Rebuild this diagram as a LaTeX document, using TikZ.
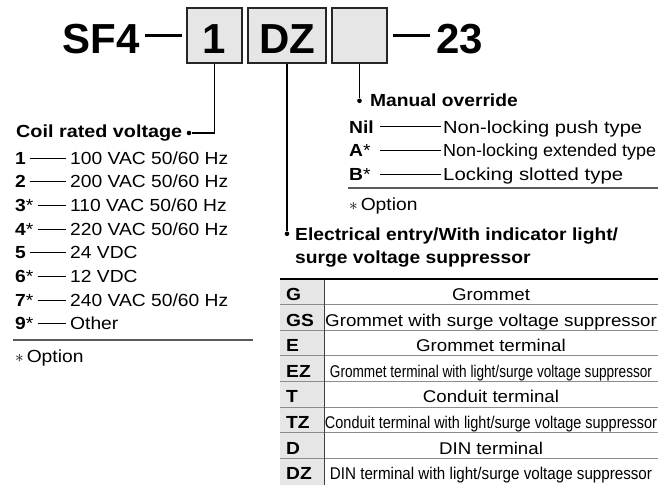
\documentclass[tikz,border=0pt]{standalone}
\usepackage{fontspec}
\usepackage{graphicx}
\setmainfont{Liberation Sans}[FakeStretch=1.1]
\newfontfamily\titlefont{Liberation Sans}
\usetikzlibrary{calc,positioning}
\definecolor{boxgray}{HTML}{E6E6E6}
\definecolor{rulegray}{HTML}{5A5A5A}
\newcommand{\fitrow}[2]{\resizebox{#1}{\height}{#2}}
\tikzset{
  codebox/.style={draw=black!85, fill=boxgray, line width=1.6pt, minimum height=55pt, inner sep=0pt, text height=35pt, text depth=0pt, font=\titlefont\fontsize{42}{42}\selectfont\bfseries},
  bigtxt/.style={inner sep=0pt, font=\titlefont\fontsize{42}{42}\selectfont\bfseries},
  lead/.style={line width=1.4pt, black},
  leader/.style={line width=0.9pt, black, shorten <=4pt, shorten >=4pt},
  heading/.style={inner sep=0pt, anchor=base west, font=\fontsize{17.5}{20}\selectfont\bfseries},
  txt/.style={inner sep=0pt, anchor=base west, font=\fontsize{17.5}{20}\selectfont},
  tabtxt/.style={inner sep=0pt, anchor=base, font=\fontsize{17}{20}\selectfont},
  sepline/.style={rulegray, line width=1.3pt},
  rowline/.style={black!45, line width=0.8pt},
  joint/.style={circle, fill=black, inner sep=0pt, minimum size=4.6pt}
}

\begin{document}
\begin{tikzpicture}[x=1pt,y=-1pt]
  \useasboundingbox (0,0) rectangle (661,485);
  % part number
  \node[bigtxt, anchor=base east] (sf) at (140,53) {SF4};
  \node[codebox, minimum width=55pt] (b1) at (214.5,35.5) {1};
  \node[codebox, minimum width=78pt] (b2) at (287,35.5) {DZ};
  \node[codebox, minimum width=55pt] (b3) at (359.5,35.5) {};
  \node[bigtxt, anchor=base west] (tw) at (436,53) {23};
  \draw[line width=2.4pt, shorten <=5pt, shorten >=4pt] (sf.east |- b1.west) -- (b1.west);
  \draw[line width=2.4pt, shorten <=5pt, shorten >=6pt] (b3.east) -- (tw.west |- b3.east);

  % coil rated voltage
  \node[joint] (cdot) at (189,133) {};
  \draw[lead] (b1.south) |- (cdot);
  \node[heading] (coil) at (16,137) {\fitrow{166pt}{Coil rated voltage}};
  \foreach \k/\s/\v [count=\i from 0] in {1//{100 VAC 50/60 Hz}, 2//{200 VAC 50/60 Hz}, 3/*/{110 VAC 50/60 Hz}, 4/*/{220 VAC 50/60 Hz}, 5//{24 VDC}, 6/*/{12 VDC}, 7/*/{240 VAC 50/60 Hz}, 9/*/{Other}}{
    \node[txt] (k\i) at (15,{164+23.7*\i}) {\textbf{\k}\s};
    \node[txt] (v\i) at (70,{164+23.7*\i}) {\v};
    \draw[leader] (k\i.east) -- (k\i.east -| v\i.west);
  }
  \draw[sepline] (13,340) -- (253,340);
  \node[txt] (opt1) at (15,362) {$\ast$\,Option};

  % manual override
  \path (b3.south) ++(0,37) node[joint] (mdot) {};
  \draw[lead] (b3.south) -- (mdot);
  \node[heading] (man) at (370,106) {Manual override};
  \foreach \k/\s/\v [count=\i from 0] in {Nil//{\fitrow{199pt}{Non-locking push type}}, A/*/{\fitrow{213pt}{Non-locking extended type}}, B/*/{\fitrow{180pt}{Locking slotted type}}}{
    \node[txt] (mk\i) at (349,{133+23.5*\i}) {\textbf{\k}\s};
    \node[txt] (mv\i) at (443,{133+23.5*\i}) {\v};
    \draw[leader, shorten <=6pt, shorten >=2pt] (mk0.east |- mk\i.east) -- (mk\i.east -| mv\i.west);
  }
  \draw[sepline] (348,188) -- (658,188);
  \node[txt] (opt2) at (349,210) {$\ast$\,Option};

  % electrical entry
  \path (b2.south) ++(0,170) node[joint] (edot) {};
  \draw[lead] (b2.south) -- (edot);
  \node[heading] (el1) at (295,240) {Electrical entry/With indicator light/};
  \node[heading] (el2) at (295,263) {surge voltage suppressor};

  % table
  \fill[boxgray] (280,279) rectangle (324,485);
  \foreach \i in {1,...,7}{
    \draw[rowline] (280,{279+25.6*\i}) -- (658,{279+25.6*\i});
  }
  \draw[black!75, line width=0.8pt] (324,279) -- (324,485);
  \draw[line width=2.5pt] (280,279) -- (658,279);
  \foreach \c/\d [count=\i from 0] in {G/{Grommet}, GS/{Grommet with surge voltage suppressor}, E/{Grommet terminal}, EZ/{\fitrow{322pt}{Grommet terminal with light/surge voltage suppressor}}, T/{Conduit terminal}, TZ/{\fitrow{332pt}{Conduit terminal with light/surge voltage suppressor}}, D/{DIN terminal}, DZ/{\fitrow{322pt}{DIN terminal with light/surge voltage suppressor}}}{
    \node[tabtxt, anchor=base west, font=\fontsize{17.5}{20}\selectfont\bfseries] (c\i) at (286,{300.5+25.6*\i}) {\c};
    \node[tabtxt] (d\i) at (491,{300.5+25.6*\i}) {\d};
  }
\end{tikzpicture}
\end{document}
